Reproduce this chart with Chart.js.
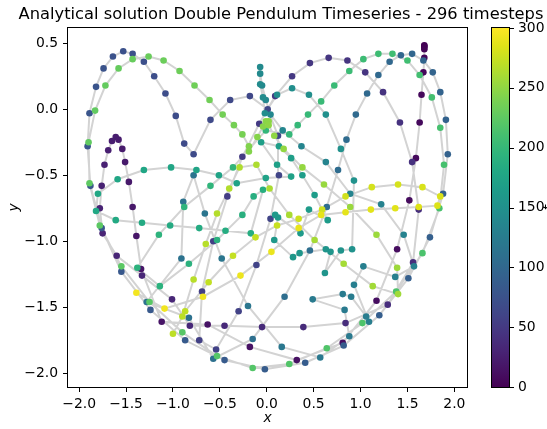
<!DOCTYPE html>
<html>
<head>
<meta charset="utf-8">
<script src="https://cdn.jsdelivr.net/npm/chart.js@4.4.0/dist/chart.umd.min.js"></script>
<style>
  html, body { margin: 0; padding: 0; background: #fff; }
  canvas { display: block; }
</style>
</head>
<body>
<canvas id="chart" width="547" height="429"></canvas>
<script>
// ---------------- data ----------------
var title = 'Analytical solution Double Pendulum Timeseries - 296 timesteps';
var xTicks = [-2.0, -1.5, -1.0, -0.5, 0.0, 0.5, 1.0, 1.5, 2.0];
var yTicks = [-2.0, -1.5, -1.0, -0.5, 0.0, 0.5];
var cbTicks = [0, 50, 100, 150, 200, 250, 300];

// time step of each point (from its colour), in path order
var steps = [
  0,1,2,3,4,5,6,7,8,9,10,11,12,13,14,15,16,17,18,19,20,21,22,23,24,25,26,27,28,29,30,31,32,
  33,34,35,36,37,38,39,40,41,42,43,44,45,46,47,48,49,50,
  51,52,53,54,55,56,57,58,59,60,61,62,63,64,65,66,67,
  68,69,70,71,72,73,74,75,76,77,78,79,80,81,82,83,84,85,86,87,88,89,90,91,92,93,94,95,96,97,98,99,100,101,102,103,104,
  105,106,107,108,109,110,111,112,113,114,115,
  116,117,118,119,120,121,122,123,124,125,126,127,128,129,130,131,132,133,134,135,136,137,138,139,140,141,142,143,144,145,
  146,147,148,149,150,151,152,153,154,155,156,157,158,159,160,161,162,163,164,165,166,167,168,169,170,171,172,173,
  174,175,176,177,178,179,180,181,182,183,184,185,186,187,188,189,190,191,192,193,194,195,196,197,198,199,
  200,201,202,203,204,205,206,207,208,209,210,211,212,213,214,215,216,217,218,219,220,221,222,223,224,225,226,227,228,229,230,231,232,233,234,235,236,237,238,
  243,244,245,246,247,248,249,250,251,252,253,254,255,256,257,258,259,260,261,262,263,264,265,266,267,268,269,270,271,272,273,274,275,
  277,278,279,280,281,282,283,284,285,286,287,288,289,290,291,292,293,294,295
];
var xs = [
  1.68,1.68,1.68,1.68,1.68,1.67,1.65,1.63,1.59,1.52,1.39,1.17,0.81,0.32,-0.18,-0.63,-1.12,-1.34,-1.39,-1.43,-1.47,-1.51,-1.54,-1.58,-1.61,-1.65,-1.69,-1.73,-1.76,-1.78,-1.75,-1.60,-1.33,
  -1.01,-0.82,-0.45,-0.05,0.39,0.84,1.29,1.56,1.62,1.55,1.42,1.24,1.05,0.86,0.66,0.46,0.27,0.09,
  -0.08,-0.26,-0.42,-0.57,-0.69,-0.72,-0.54,-0.30,-0.11,0.04,0.13,0.12,0.01,-0.18,-0.39,-0.60,-0.78,
  -0.88,-0.97,-1.08,-1.20,-1.31,-1.43,-1.53,-1.64,-1.74,-1.82,-1.89,-1.91,-1.88,-1.76,-1.55,-1.24,-0.87,-0.45,-0.02,0.41,0.82,1.20,1.51,1.74,1.88,1.93,1.91,1.85,1.77,1.67,1.55,1.43,1.31,1.19,1.07,0.95,0.85,
  0.76,0.64,0.46,0.19,-0.15,-0.57,-0.83,-1.28,-0.91,-0.89,-0.78,
  -0.66,-0.48,-0.20,0.16,0.57,0.88,0.83,0.49,0.81,0.90,1.06,1.09,0.93,1.03,1.37,1.57,1.46,1.22,0.89,0.63,0.37,0.17,0.04,-0.01,-0.05,-0.07,-0.07,-0.07,-0.04,-0.02,
  0.11,0.27,0.45,0.63,0.79,0.93,0.91,0.79,0.62,0.68,0.63,0.35,0.28,0.08,0.12,0.09,0.36,0.45,0.65,0.51,0.38,0.26,0.13,-0.06,0.11,0.26,-0.01,-0.32,
  -0.51,-0.75,-1.02,-1.31,-1.59,-1.80,-1.82,-1.61,-1.33,-1.03,-0.72,-0.44,-0.17,-0.04,-0.14,-0.26,-0.53,-0.83,-1.14,-1.38,-1.15,-0.88,-0.60,-0.36,-0.01,0.24,
  0.33,0.44,0.58,0.72,0.88,1.03,1.19,1.34,1.50,1.63,1.76,1.85,1.89,1.84,1.66,1.38,1.02,0.64,0.24,-0.15,-0.53,-0.90,-1.25,-1.55,-1.78,-1.89,-1.90,-1.83,-1.72,-1.58,-1.43,-1.26,-1.10,-0.93,-0.77,-0.61,-0.47,-0.35,-0.26,
  -0.19,-0.19,-0.10,-0.04,-0.01,0.02,0.02,0.08,0.18,0.38,0.61,0.89,1.17,1.39,1.40,1.13,0.82,0.51,0.24,0.03,-0.11,-0.29,-0.40,-0.53,-0.65,-0.78,-0.90,-1.00,-0.87,-0.62,-0.36,-0.12,0.11,
  0.34,0.59,0.84,1.12,1.40,1.66,1.85,1.82,1.62,1.37,1.11,0.84,0.58,0.34,0.05,-0.28,-0.68,-1.09,-1.39
];
var ys = [
  0.485,0.480,0.468,0.455,0.39,0.28,0.11,-0.10,-0.37,-0.69,-1.06,-1.45,-1.77,-1.90,-1.80,-1.63,-1.61,-1.21,-0.96,-0.74,-0.55,-0.40,-0.30,-0.23,-0.21,-0.24,-0.31,-0.42,-0.58,-0.75,-0.94,-1.11,-1.26,
  -1.44,-1.64,-1.64,-1.65,-1.65,-1.62,-1.48,-1.16,-0.76,-0.40,-0.10,0.13,0.28,0.37,0.39,0.35,0.25,0.10,
  -0.11,-0.36,-0.66,-1.00,-1.38,-1.75,-1.82,-1.53,-1.18,-0.83,-0.50,-0.20,0.00,0.10,0.07,-0.08,-0.34,
  -0.26,-0.05,0.12,0.25,0.36,0.42,0.44,0.40,0.31,0.17,-0.03,-0.28,-0.58,-0.90,-1.23,-1.52,-1.75,-1.90,-1.97,-1.92,-1.79,-1.56,-1.28,-0.97,-0.64,-0.34,-0.08,0.13,0.28,0.37,0.42,0.41,0.36,0.26,0.12,-0.04,-0.23,
  -0.46,-0.74,-1.07,-1.42,-1.74,-1.89,-1.58,-1.46,-1.13,-0.70,-0.50,
  -0.79,-1.13,-1.49,-1.80,-1.88,-1.72,-1.52,-1.44,-1.40,-1.42,-1.57,-1.61,-1.33,-1.19,-1.27,-1.19,-0.95,-0.72,-0.64,-0.40,-0.28,-0.16,-0.04,0.07,0.18,0.27,0.32,0.19,0.09,-0.03,
  0.11,0.16,0.11,-0.04,-0.30,-0.54,-1.06,-1.07,-1.24,-1.08,-1.06,-1.09,-1.12,-0.99,-0.82,-0.80,-0.94,-0.76,-0.84,-0.65,-0.50,-0.37,-0.28,-0.25,-0.42,-0.51,-0.52,-0.56,
  -0.50,-0.46,-0.44,-0.46,-0.53,-0.64,-0.77,-0.84,-0.86,-0.88,-0.90,-0.92,-0.94,-0.61,-0.66,-0.80,-0.99,-1.17,-1.34,-1.20,-0.95,-0.74,-0.58,-0.44,-0.16,-0.19,
  -0.12,-0.04,0.06,0.18,0.29,0.38,0.42,0.42,0.37,0.26,0.09,-0.14,-0.42,-0.75,-1.09,-1.38,-1.62,-1.81,-1.93,-1.96,-1.87,-1.69,-1.46,-1.19,-0.88,-0.56,-0.25,-0.01,0.18,0.31,0.38,0.40,0.37,0.29,0.18,0.07,-0.04,-0.12,-0.19,
  -0.28,-0.32,-0.21,-0.13,-0.09,-0.09,-0.12,-0.20,-0.30,-0.44,-0.57,-0.74,-0.95,-1.20,-1.40,-1.34,-1.17,-0.99,-0.80,-0.60,-0.42,-0.44,-0.60,-0.79,-1.02,-1.29,-1.57,-1.70,-1.53,-1.31,-1.11,-0.97,-0.88,
  -0.83,-0.76,-0.66,-0.59,-0.57,-0.59,-0.66,-0.73,-0.74,-0.75,-0.76,-0.78,-0.80,-0.90,-1.08,-1.26,-1.42,-1.51,-1.39
];

// ---------------- colours ----------------
var VIRIDIS = ['#440154','#471365','#482475','#463480','#414487','#3b528b','#355f8d','#2f6c8e','#2a788e','#25848e',
               '#21918c','#1e9c89','#22a884','#2fb47c','#44bf70','#5ec962','#7ad151','#9bd93c','#bddf26','#dfe318','#fde725'];
function hexRgb(h) { return [parseInt(h.substr(1,2),16), parseInt(h.substr(3,2),16), parseInt(h.substr(5,2),16)]; }
function viridis(f) {
  f = Math.max(0, Math.min(1, f));
  var p = f * (VIRIDIS.length - 1);
  var i = Math.min(Math.floor(p), VIRIDIS.length - 2);
  var t = p - i;
  var a = hexRgb(VIRIDIS[i]), b = hexRgb(VIRIDIS[i + 1]);
  return 'rgb(' + Math.round(a[0] + (b[0]-a[0])*t) + ',' + Math.round(a[1] + (b[1]-a[1])*t) + ',' + Math.round(a[2] + (b[2]-a[2])*t) + ')';
}

var FONT = 'DejaVu Sans';
var points = xs.map(function (x, i) { return { x: x, y: ys[i] }; });
var colors = steps.map(function (s) { return viridis(s / 300); });

function fmt(v) { return (v < 0 ? '\u2212' : '') + Math.abs(v).toFixed(1); }

// spines, colorbar and title
var decor = {
  id: 'decor',
  beforeDraw: function (chart) {
    var ctx = chart.ctx;
    ctx.save();
    ctx.fillStyle = '#fff';
    ctx.fillRect(0, 0, chart.width, chart.height);
    ctx.restore();
  },
  afterDraw: function (chart) {
    var ctx = chart.ctx, a = chart.chartArea, cb = chart.scales.cb;
    ctx.save();
    ctx.strokeStyle = '#000';
    ctx.lineWidth = 1;
    ctx.strokeRect(Math.round(a.left) - 0.5, Math.round(a.top) - 0.5, Math.round(a.right - a.left) + 1, Math.round(a.bottom - a.top) + 1);

    // colorbar
    var x0 = 492, w = 17;
    var yb = cb.getPixelForValue(0), yt = cb.getPixelForValue(300);
    var g = ctx.createLinearGradient(0, yb, 0, yt);
    VIRIDIS.forEach(function (c, i) { g.addColorStop(i / (VIRIDIS.length - 1), c); });
    ctx.fillStyle = g;
    ctx.fillRect(x0, yt, w, yb - yt);
    ctx.strokeRect(x0 - 0.5, Math.round(yt) - 0.5, w + 1, Math.round(yb - yt) + 1);
    cbTicks.forEach(function (v) {
      var y = Math.round(cb.getPixelForValue(v)) + 0.5;
      ctx.beginPath();
      ctx.moveTo(x0 + w, y);
      ctx.lineTo(x0 + w + 5, y);
      ctx.stroke();
    });

    ctx.fillStyle = '#000';
    // colorbar label
    ctx.font = 'italic 13.9px "' + FONT + '"';
    ctx.translate(553, (yt + yb) / 2);
    ctx.rotate(-Math.PI / 2);
    ctx.textAlign = 'center';
    ctx.textBaseline = 'alphabetic';
    ctx.fillText('t', 0, 0);
    ctx.setTransform(1, 0, 0, 1, 0, 0);

    // title
    ctx.font = '16.3px "' + FONT + '"';
    ctx.textAlign = 'center';
    ctx.textBaseline = 'alphabetic';
    ctx.fillText(title, 281, 19);
    ctx.restore();
  }
};

var tickFont = { family: FONT, size: 13.9 };
var labelFont = { family: FONT, size: 13.9, style: 'italic' };
var gridOpts = { display: true, drawOnChartArea: false, drawTicks: true, tickLength: 5, color: '#000', lineWidth: 1 };

new Chart(document.getElementById('chart'), {
  type: 'scatter',
  data: {
    datasets: [
      {
        data: points,
        showLine: true,
        borderColor: '#d3d3d3',
        borderWidth: 2,
        pointRadius: 0,
        tension: 0,
        order: 2
      },
      {
        data: points,
        pointRadius: 3.3,
        pointHoverRadius: 3.3,
        pointBorderWidth: 0,
        backgroundColor: colors,
        borderColor: colors,
        order: 1
      }
    ]
  },
  options: {
    responsive: false,
    animation: false,
    devicePixelRatio: 1,
    events: [],
    layout: { padding: { top: 28, left: 0, right: 0, bottom: 0 } },
    plugins: { legend: { display: false }, tooltip: { enabled: false }, title: { display: false } },
    scales: {
      x: {
        type: 'linear', position: 'bottom',
        min: -2.119, max: 2.135,
        afterBuildTicks: function (s) { s.ticks = xTicks.map(function (v) { return { value: v }; }); },
        afterFit: function (s) { s.height = 42; },
        ticks: { font: tickFont, color: '#000', padding: 4, maxRotation: 0, autoSkip: false, callback: fmt },
        grid: gridOpts,
        border: { display: false },
        title: { display: true, text: 'x', font: labelFont, color: '#000', padding: { top: 0, bottom: 2 } }
      },
      y: {
        type: 'linear', position: 'left',
        min: -2.104, max: 0.616,
        afterBuildTicks: function (s) { s.ticks = yTicks.map(function (v) { return { value: v }; }); },
        afterFit: function (s) { s.width = 68; },
        ticks: { font: tickFont, color: '#000', padding: 5, autoSkip: false, callback: fmt },
        grid: gridOpts,
        border: { display: false },
        title: { display: true, text: 'y', font: labelFont, color: '#000', padding: { top: 6, bottom: 0 } }
      },
      cb: {
        type: 'linear', position: 'right',
        min: 0, max: 300,
        afterBuildTicks: function (s) { s.ticks = cbTicks.map(function (v) { return { value: v }; }); },
        afterFit: function (s) { s.width = 80; },
        ticks: { font: tickFont, color: '#000', padding: 5, autoSkip: false },
        grid: { display: false, drawTicks: true, tickLength: 46 },
        border: { display: false }
      }
    }
  },
  plugins: [decor]
});
</script>
</body>
</html>
